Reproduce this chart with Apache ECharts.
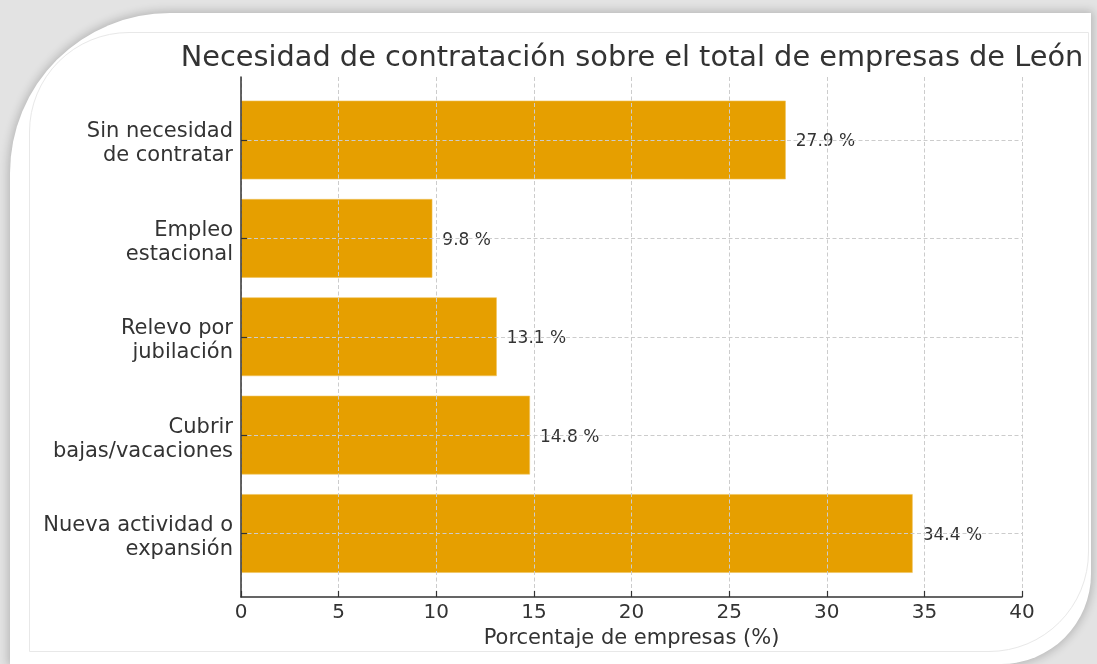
<!DOCTYPE html>
<html>
<head>
<meta charset="utf-8">
<title>Necesidad de contratación</title>
<script src="https://cdn.jsdelivr.net/npm/echarts@6/dist/echarts.min.js"></script>
<style>
  html, body { margin: 0; padding: 0; width: 1097px; height: 664px; overflow: hidden; background: #e3e3e3; }
  .card {
    position: absolute; left: 10px; top: 13px; width: 1081px; height: 651px;
    background: #fff; border-radius: 160px 0 90px 0;
    box-shadow: 0 0 10px 2px rgba(0, 0, 0, 0.2);
  }
  .inner {
    position: absolute; left: 19px; top: 19px; width: 1058px; height: 618px;
    border: 1px solid #e8e8e8; border-radius: 100px 0 100px 0;
  }
  #chart { position: absolute; left: 0; top: 0; width: 1097px; height: 664px; }
</style>
</head>
<body>
<div class="card"><div class="inner"></div></div>
<div id="chart"></div>
<script>
// datos
const categories = [
  'Sin necesidad\nde contratar',
  'Empleo\nestacional',
  'Relevo por\njubilación',
  'Cubrir\nbajas/vacaciones',
  'Nueva actividad o\nexpansión'
]
const values = [27.9, 9.8, 13.1, 14.8, 34.4]
const xMin = 0
const xMax = 40
const xStep = 5

const textColor = '#333'
const gridLine = { show: true, lineStyle: { color: '#cccccc', width: 1, type: [4, 2.5] } }

const chart = echarts.init(document.getElementById('chart'))
const option = {
  animation: false,
  textStyle: { fontFamily: 'DejaVu Sans' },
  title: {
    text: 'Necesidad de contratación sobre el total de empresas de León',
    left: 627,
    top: 39,
    textAlign: 'center',
    textStyle: { fontSize: 28.8, fontWeight: 'normal', color: textColor, fontFamily: 'DejaVu Sans' }
  },
  grid: [
    // marco: ejes y líneas verticales
    { left: 241, right: 75, top: 77, bottom: 67 },
    // barras: centros de categoría
    { left: 241, right: 75, top: 140, bottom: 130.5 }
  ],
  xAxis: [
    {
      gridIndex: 0,
      type: 'value',
      min: xMin,
      max: xMax,
      interval: xStep,
      z: 5,
      name: 'Porcentaje de empresas (%)',
      nameLocation: 'middle',
      nameGap: 30,
      nameTextStyle: { fontSize: 21, color: textColor },
      axisLine: { show: true, onZero: false, lineStyle: { color: '#333', width: 1.5 } },
      axisTick: { show: true, inside: true, length: 6, lineStyle: { color: '#333', width: 1.2 } },
      axisLabel: { fontSize: 20, color: textColor, margin: 6 },
      splitLine: gridLine
    },
    {
      gridIndex: 1,
      type: 'value',
      min: xMin,
      max: xMax,
      show: false
    }
  ],
  yAxis: [
    {
      gridIndex: 0,
      type: 'value',
      min: 0,
      max: 1,
      z: 5,
      axisLine: { show: true, lineStyle: { color: '#333', width: 1.5 } },
      axisTick: { show: false },
      axisLabel: { show: false },
      splitLine: { show: false }
    },
    {
      gridIndex: 1,
      type: 'category',
      data: categories,
      inverse: true,
      boundaryGap: false,
      z: 5,
      axisLine: { show: false },
      axisTick: { show: true, inside: true, length: 6, interval: 0, lineStyle: { color: '#333', width: 1.2 } },
      axisLabel: {
        color: textColor,
        margin: 8,
        interval: 0,
        // línea vacía arriba para bajar el bloque unos píxeles
        formatter: v => '{s| }\n' + v.split('\n').map(l => '{a|' + l + '}').join('\n'),
        rich: {
          s: { fontSize: 1, lineHeight: 8 },
          a: { fontSize: 21, lineHeight: 24, color: textColor, fontFamily: 'DejaVu Sans' }
        }
      },
      splitLine: Object.assign({ interval: 0 }, gridLine)
    }
  ],
  series: [
    {
      type: 'bar',
      xAxisIndex: 1,
      yAxisIndex: 1,
      data: values,
      clip: false,
      barCategoryGap: '20%',
      itemStyle: { color: '#E69F00', borderColor: '#f0c25a', borderWidth: 0.6 },
      label: {
        show: true,
        position: 'right',
        distance: 10,
        offset: [0, 2],
        fontSize: 17,
        color: textColor,
        formatter: p => p.value + ' %'
      }
    }
  ]
}
chart.setOption(option)
window.addEventListener('resize', () => chart.resize())
</script>
</body>
</html>
